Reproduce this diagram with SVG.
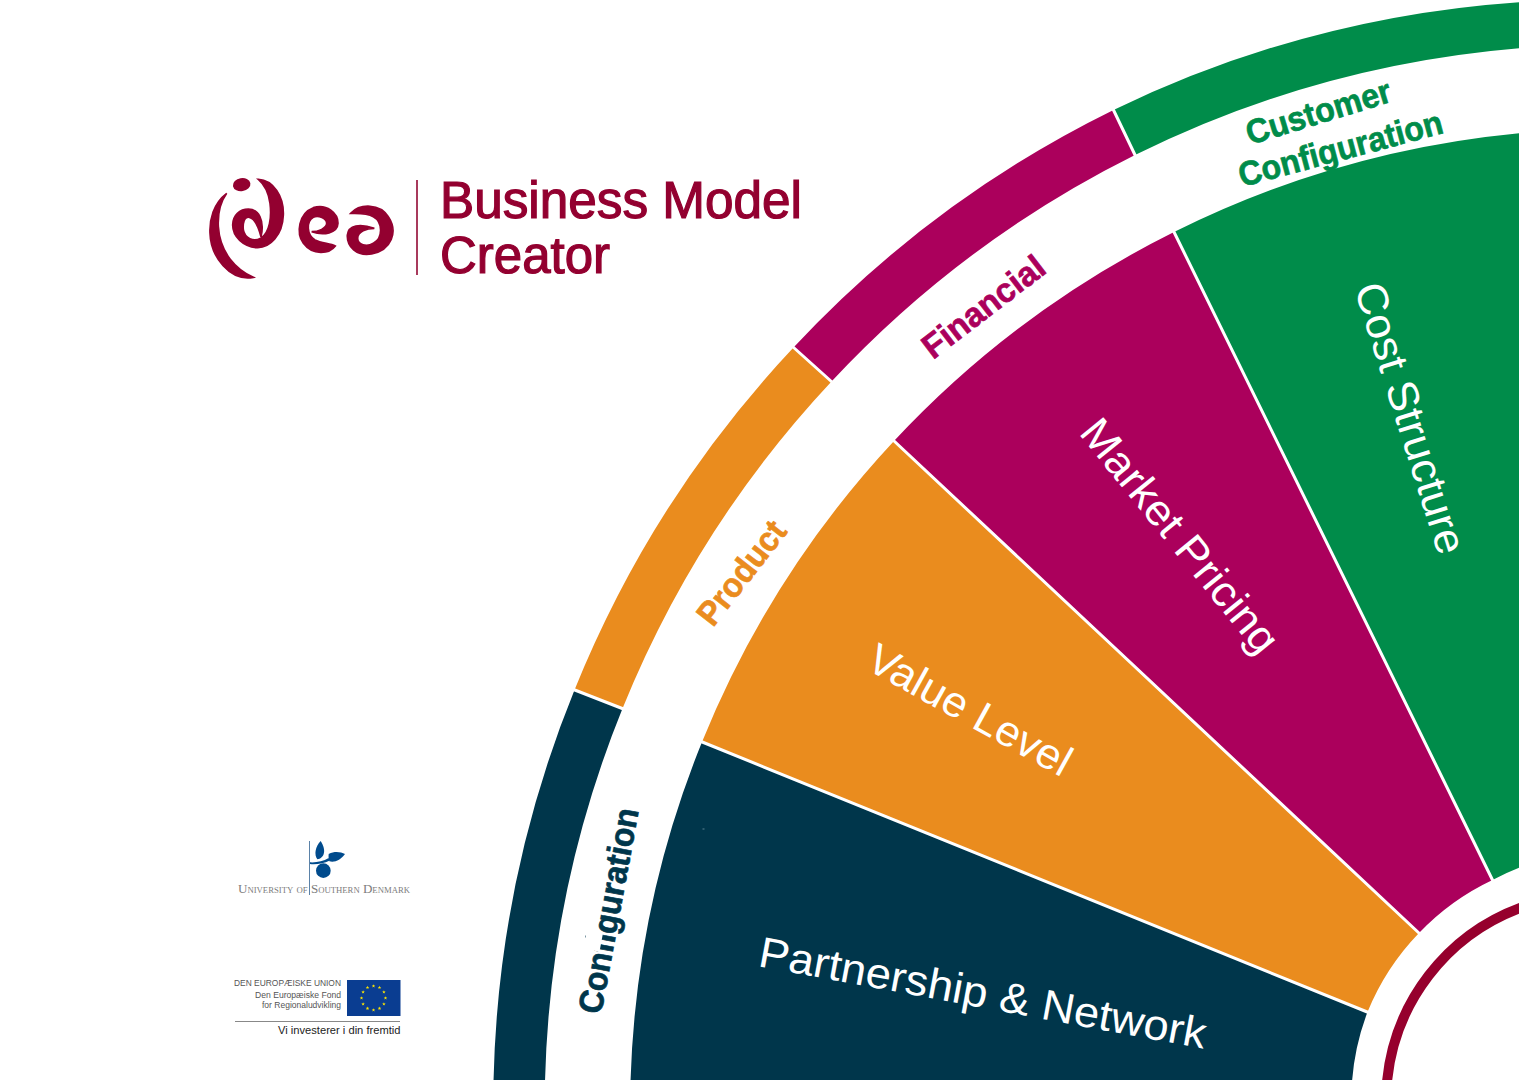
<svg xmlns="http://www.w3.org/2000/svg" width="1519" height="1080" viewBox="0 0 1519 1080">
<style>
.navy{fill:#00364b}.orange{fill:#ea8c1e}.mag{fill:#ab005c}.green{fill:#008c4a}
.div{stroke:#fff;stroke-width:3;fill:none}
.big{font-family:"Liberation Sans",Arial,sans-serif;font-size:43px;fill:#fff}
.band{font-family:"Liberation Sans",Arial,sans-serif;font-weight:700;font-size:34px;stroke-width:.7}
.title{font-family:"Liberation Sans",Arial,sans-serif;font-size:51px;fill:#930030;stroke:#930030;stroke-width:1.2}
.logo{fill:#930030;stroke:#930030;stroke-width:5}
.eu{font-family:"Liberation Sans",Arial,sans-serif;font-size:8.4px;fill:#555;text-anchor:end}
</style>
<defs><polygon id="star" points="0,-1.8 .5,-.55 1.8,-.55 .75,.25 1.1,1.5 0,.75 -1.1,1.5 -.75,.25 -1.8,-.55 -.5,-.55" fill="#ffe600"/></defs>
<rect width="1519" height="1080" fill="#fff"/>
<g id="outer-band">
<path class="navy" d="M493.5,1082 A1103,1103 0 0 1 574.5,690 L622.5,708.5 A1062,1062 0 0 0 545,1082 Z"/>
<path class="orange" d="M574.5,690 A1103,1103 0 0 1 793.5,347.5 L831.5,381.5 A1062,1062 0 0 0 622.5,708.5 Z"/>
<path class="mag" d="M793.5,347.5 A1103,1103 0 0 1 1113.5,110 L1135,155 A1062,1062 0 0 0 831.5,381.5 Z"/>
<path class="green" d="M1113.5,110 A1103,1103 0 0 1 1521,2 L1521,48 A1062,1062 0 0 0 1135,155 Z"/>
<path class="div" d="M573.5,689.5 L623.5,709 M792.5,346.5 L832.5,382.5 M1113,109 L1135.5,156"/>
</g>
<g id="sectors">
<path class="navy" d="M630.5,1082 A981.5,981.5 0 0 1 702,742 L1367.5,1012 A248,248 0 0 0 1352,1082 Z"/>
<path class="orange" d="M702,742 A981.5,981.5 0 0 1 894,441 L1419,933 A248,248 0 0 0 1367.5,1012 Z"/>
<path class="mag" d="M894,441 A981.5,981.5 0 0 1 1174,232 L1492.5,880 A248,248 0 0 0 1419,933 Z"/>
<path class="green" d="M1174,232 A981.5,981.5 0 0 1 1521,133 L1521,867 A248,248 0 0 0 1492.5,880 Z"/>
<path class="div" d="M701,741.5 L1368.5,1012.5 M893,440 L1420,934 M1173.5,231 L1493,881"/>
</g>
<path id="hub-ring" d="M1387,1082 A206,206 0 0 1 1521,907.6" fill="none" stroke="#96002d" stroke-width="10"/>
<g id="sector-labels">
<text class="big" transform="translate(757,966) rotate(10.5)" textLength="454" lengthAdjust="spacingAndGlyphs">Partnership &amp; Network</text>
<text class="big" transform="translate(864,668) rotate(29)" textLength="226" lengthAdjust="spacingAndGlyphs">Value Level</text>
<text class="big" transform="translate(1078,433) rotate(51)" textLength="288" lengthAdjust="spacingAndGlyphs">Market Pricing</text>
<text class="big" transform="translate(1354,288) rotate(72.5)" textLength="282" lengthAdjust="spacingAndGlyphs">Cost Structure</text>
</g>
<g id="band-labels">
<g transform="translate(601,1015) rotate(-79.5)">
<text class="band" fill="#00364b" stroke="#00364b" textLength="208" lengthAdjust="spacingAndGlyphs">Configuration</text>
<rect x="62" y="-33" width="18.5" height="20" fill="#fff"/>
</g>
<text class="band" fill="#ea8c1e" stroke="#ea8c1e" transform="translate(713,628) rotate(-52)" textLength="122" lengthAdjust="spacingAndGlyphs">Product</text>
<text class="band" fill="#ab005c" stroke="#ab005c" transform="translate(933,360) rotate(-37.5)" textLength="145" lengthAdjust="spacingAndGlyphs">Financial</text>
<text class="band" fill="#008c4a" stroke="#008c4a" transform="translate(1250,145) rotate(-17)" textLength="150" lengthAdjust="spacingAndGlyphs">Customer</text>
<text class="band" fill="#008c4a" stroke="#008c4a" transform="translate(1242,187) rotate(-15)" textLength="210" lengthAdjust="spacingAndGlyphs">Configuration</text>
</g>
<rect x="585" y="935.5" width="1" height="2" fill="#7f9aa5"/>
<rect x="702.5" y="828.5" width="2" height="1" fill="#5c8494"/>
<g id="idea-logo">
<g class="logo" transform="translate(190,160) scale(.33333)">
<path d="M110,100 C70,130 58,180 60,220 C62,290 120,365 190,352 C140,330 90,280 85,200 C83,160 92,125 110,100Z"/>
<ellipse cx="155" cy="74" rx="24" ry="17" transform="rotate(-10 155 74)"/>
<path d="M205,58 C250,60 282,110 280,165 C278,225 240,265 200,263 C160,260 128,230 128,195 C128,165 150,147 175,147 C205,147 225,180 213,230 C205,200 195,175 178,172 C162,170 158,190 160,210 C165,235 190,247 212,235 C240,218 245,170 240,130 C236,100 225,75 205,58Z"/>
<path d="M436,258 C420,280 370,290 340,250 C318,220 325,160 370,143 C410,130 445,160 444,190 C443,220 400,228 365,215 C385,215 410,205 410,190 C410,175 385,165 370,172 C348,185 350,225 375,240 C395,250 420,250 436,258Z"/>
<path d="M482,160 C510,130 570,130 595,170 C625,215 605,270 545,282 C500,290 470,260 472,225 C475,195 510,190 553,205 C530,205 503,215 503,235 C503,255 530,262 550,250 C580,235 578,185 550,170 C530,158 505,160 482,160Z"/>
</g>
<rect x="416" y="180" width="2" height="95" fill="#a83a5c"/>
<text class="title" x="440" y="218" textLength="362" lengthAdjust="spacingAndGlyphs">Business Model</text>
<text class="title" x="440" y="273" textLength="170" lengthAdjust="spacingAndGlyphs">Creator</text>
</g>
<g id="usd-logo">
<rect x="309" y="841" width="1" height="54" fill="#5b82a8"/>
<g fill="#004b8d" transform="translate(220,830) scale(.33333)">
<path d="M302,33 C285,50 282,75 292,88 C310,85 322,65 302,33Z"/>
<path d="M326,72 C345,62 362,66 375,72 C362,90 345,98 328,94 C326,88 325,80 326,72Z"/>
<path d="M270,97 C290,98 310,94 326,84 L328,92 C312,100 290,104 270,102Z"/>
<circle cx="310" cy="122" r="22"/>
</g>
<text x="238" y="893" font-family="Liberation Serif,Times New Roman,serif" font-size="12" font-variant="small-caps" fill="#7c7c7c" textLength="172" lengthAdjust="spacingAndGlyphs">University of Southern Denmark</text>
</g>
<g id="eu-logo">
<rect x="347" y="980" width="53.5" height="36" fill="#0a3d91"/>
<g id="stars">
<use href="#star" x="373.5" y="986"/><use href="#star" x="379.5" y="987.6"/><use href="#star" x="383.9" y="992"/><use href="#star" x="385.5" y="998"/><use href="#star" x="383.9" y="1004"/><use href="#star" x="379.5" y="1008.4"/><use href="#star" x="373.5" y="1010"/><use href="#star" x="367.5" y="1008.4"/><use href="#star" x="363.1" y="1004"/><use href="#star" x="361.5" y="998"/><use href="#star" x="363.1" y="992"/><use href="#star" x="367.5" y="987.6"/>
</g>
<text class="eu" x="341" y="986" textLength="107" lengthAdjust="spacingAndGlyphs">DEN EUROPÆISKE UNION</text>
<text class="eu" x="341" y="998" textLength="86" lengthAdjust="spacingAndGlyphs">Den Europæiske Fond</text>
<text class="eu" x="341" y="1008" textLength="79" lengthAdjust="spacingAndGlyphs">for Regionaludvikling</text>
<rect x="235" y="1021" width="165" height="1" fill="#888"/>
<text x="278" y="1034" font-family="Liberation Sans,Arial,sans-serif" font-size="10.5" fill="#222" textLength="122.5" lengthAdjust="spacingAndGlyphs">Vi investerer i din fremtid</text>
</g>
</svg>
